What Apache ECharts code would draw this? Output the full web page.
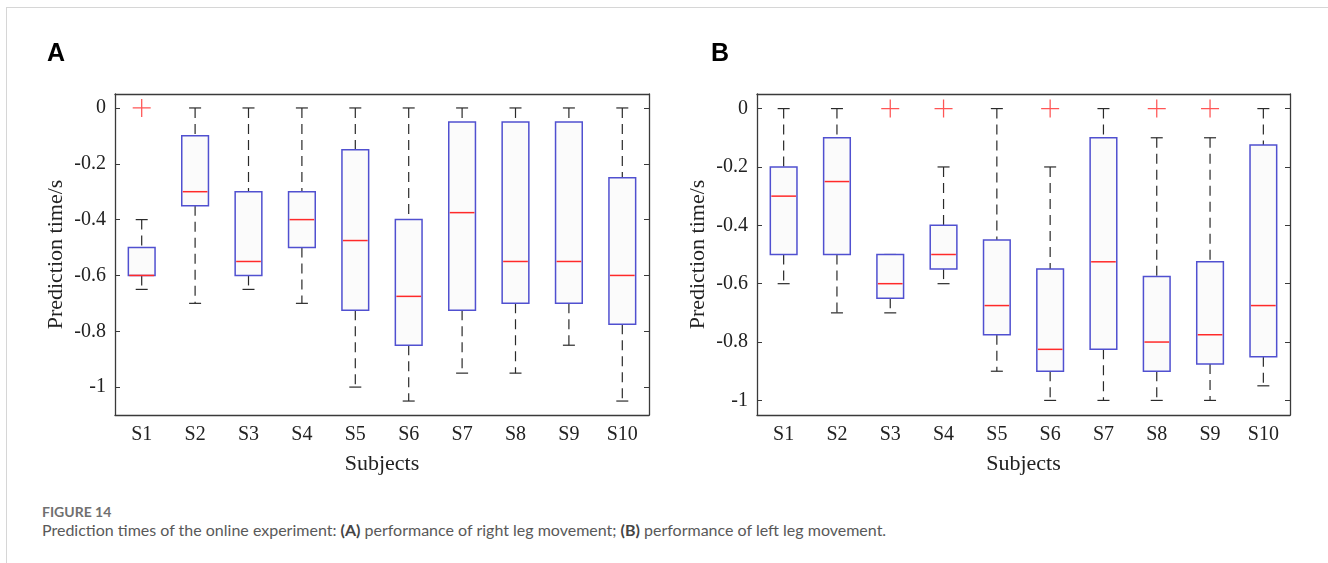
<!DOCTYPE html>
<html>
<head>
<meta charset="utf-8">
<script src="https://cdn.jsdelivr.net/npm/echarts@6/dist/echarts.min.js"></script>
<style>
  html, body { margin: 0; padding: 0; background: #fff; }
  body { width: 1328px; height: 563px; position: relative; overflow: hidden; }
  .frame { position: absolute; left: 6px; top: 7px; right: 0; bottom: 0;
           border-left: 1px solid #d6d6d6; border-top: 1px solid #d6d6d6; }
  #main { position: absolute; left: 0; top: 0; width: 1328px; height: 490px; }
  .fig { position: absolute; left: 42px; top: 503px; font-family: Lato, sans-serif;
         font-weight: bold; font-size: 14px; color: #707070; }
  .cap { position: absolute; left: 42px; top: 520px; font-family: Lato, sans-serif;
         font-size: 16px; color: #595959; white-space: nowrap; }
  .cap b { color: #444; }
</style>
</head>
<body>
<div class="frame"></div>
<div id="main"></div>
<div class="fig">FIGURE 14</div>
<div class="cap">Prediction times of the online experiment: <b>(A)</b> performance of right leg movement; <b>(B)</b> performance of left leg movement.</div>
<script>
  const subjects = ['S1', 'S2', 'S3', 'S4', 'S5', 'S6', 'S7', 'S8', 'S9', 'S10'];
  const yTicks = [0, -0.2, -0.4, -0.6, -0.8, -1];

  // panel A: right leg
  const lowerA  = [-0.65, -0.7, -0.65, -0.7, -1.0, -1.05, -0.95, -0.95, -0.85, -1.05];
  const q1A     = [-0.6, -0.35, -0.6, -0.5, -0.725, -0.85, -0.725, -0.7, -0.7, -0.775];
  const medianA = [-0.6, -0.3, -0.55, -0.4, -0.475, -0.675, -0.375, -0.55, -0.55, -0.6];
  const q3A     = [-0.5, -0.1, -0.3, -0.3, -0.15, -0.4, -0.05, -0.05, -0.05, -0.25];
  const upperA  = [-0.4, 0, 0, 0, 0, 0, 0, 0, 0, 0];
  const outlierA = [[0, 0]];

  // panel B: left leg
  const lowerB  = [-0.6, -0.7, -0.7, -0.6, -0.9, -1, -1, -1, -1, -0.95];
  const q1B     = [-0.5, -0.5, -0.65, -0.55, -0.775, -0.9, -0.825, -0.9, -0.875, -0.85];
  const medianB = [-0.3, -0.25, -0.6, -0.5, -0.675, -0.825, -0.525, -0.8, -0.775, -0.675];
  const q3B     = [-0.2, -0.1, -0.5, -0.4, -0.45, -0.55, -0.1, -0.575, -0.525, -0.125];
  const upperB  = [0, 0, -0.5, -0.2, 0, -0.2, 0, -0.1, -0.1, 0];
  const outlierB = [[2, 0], [3, 0], [5, 0], [7, 0], [8, 0]];

  const serif = 'Liberation Serif';
  const axisColor = '#3a3a3a';

  function boxRows(lo, q1, med, q3, up) {
    return subjects.map((s, i) => [i, lo[i], q1[i], med[i], q3[i], up[i]]);
  }

  // matlab style box: dashed whiskers, blue box, red median
  function renderBox(params, api) {
    const x = api.value(0);
    const pLo = api.coord([x, api.value(1)]);
    const pQ1 = api.coord([x, api.value(2)]);
    const pMed = api.coord([x, api.value(3)]);
    const pQ3 = api.coord([x, api.value(4)]);
    const pUp = api.coord([x, api.value(5)]);
    const cx = pLo[0];
    const w = api.size([1, 0])[0] * 0.5;
    const cap = 12;
    const dash = { stroke: '#2a2a2a', lineWidth: 1.2, lineDash: [10, 6] };
    const solid = { stroke: '#2a2a2a', lineWidth: 1.2 };
    return {
      type: 'group',
      children: [
        { type: 'line', shape: { x1: cx, y1: pUp[1], x2: cx, y2: pQ3[1] }, style: dash },
        { type: 'line', shape: { x1: cx, y1: pQ1[1], x2: cx, y2: pLo[1] }, style: dash },
        { type: 'line', shape: { x1: cx - cap / 2, y1: pUp[1], x2: cx + cap / 2, y2: pUp[1] }, style: solid },
        { type: 'line', shape: { x1: cx - cap / 2, y1: pLo[1], x2: cx + cap / 2, y2: pLo[1] }, style: solid },
        { type: 'rect', shape: { x: cx - w / 2, y: pQ3[1], width: w, height: pQ1[1] - pQ3[1] },
          style: { fill: '#fbfbfb', stroke: '#5050d0', lineWidth: 1.5 } },
        { type: 'line', shape: { x1: cx - w / 2 + 1, y1: pMed[1], x2: cx + w / 2 - 1, y2: pMed[1] },
          style: { stroke: '#ff2a2a', lineWidth: 1.5 } }
      ]
    };
  }

  const plus = 'path://M9.3,0H10.7V20H9.3Z M0,9.3H20V10.7H0Z';

  function xAxes(grid) {
    return [
      { type: 'category', gridIndex: grid, data: subjects, position: 'bottom',
        name: 'Subjects', nameLocation: 'middle', nameGap: 38,
        nameTextStyle: { fontFamily: serif, fontSize: 22, color: '#222' },
        axisLine: { onZero: false, lineStyle: { color: axisColor, width: 1.3 } },
        axisTick: { inside: true, alignWithLabel: true, length: 5, lineStyle: { color: axisColor } },
        axisLabel: { fontFamily: serif, fontSize: 20, color: '#222', margin: 10 } },
      { type: 'category', gridIndex: grid, data: subjects, position: 'top',
        axisLine: { onZero: false, lineStyle: { color: axisColor, width: 1.3 } },
        axisTick: { inside: true, alignWithLabel: true, length: 5, lineStyle: { color: axisColor } },
        axisLabel: { show: false } }
    ];
  }

  function yAxes(grid, min, max) {
    return [
      { type: 'value', gridIndex: grid, min: min, max: max, position: 'left',
        name: 'Prediction time/s', nameLocation: 'middle', nameGap: 48,
        nameTextStyle: { fontFamily: serif, fontSize: 22, color: '#222' },
        splitLine: { show: false },
        axisLine: { show: true, onZero: false, lineStyle: { color: axisColor, width: 1.3 } },
        axisTick: { show: true, inside: true, length: 5, customValues: yTicks, lineStyle: { color: axisColor } },
        axisLabel: { fontFamily: serif, fontSize: 20, color: '#222', margin: 9, customValues: yTicks } },
      { type: 'value', gridIndex: grid, min: min, max: max, position: 'right',
        splitLine: { show: false },
        axisLine: { show: true, onZero: false, lineStyle: { color: axisColor, width: 1.3 } },
        axisTick: { show: true, inside: true, length: 5, customValues: yTicks, lineStyle: { color: axisColor } },
        axisLabel: { show: false } }
    ];
  }

  const chart = echarts.init(document.getElementById('main'));
  chart.setOption({
    animation: false,
    title: [
      { text: 'A', left: 42, top: 37, textStyle: { fontFamily: 'Liberation Sans', fontSize: 25, fontWeight: 'bold', color: '#000' } },
      { text: 'B', left: 706, top: 37, textStyle: { fontFamily: 'Liberation Sans', fontSize: 25, fontWeight: 'bold', color: '#000' } }
    ],
    grid: [
      { left: 115, top: 94, width: 534, height: 321 },
      { left: 757, top: 94, width: 533, height: 321 }
    ],
    xAxis: [...xAxes(0), ...xAxes(1)],
    yAxis: [...yAxes(0, -1.1, 0.05), ...yAxes(1, -1.05, 0.05)],
    series: [
      { type: 'custom', xAxisIndex: 0, yAxisIndex: 0, renderItem: renderBox,
        encode: { x: 0, y: [1, 2, 3, 4, 5] }, data: boxRows(lowerA, q1A, medianA, q3A, upperA) },
      { type: 'scatter', xAxisIndex: 0, yAxisIndex: 0, symbol: plus, symbolSize: 18,
        itemStyle: { color: '#ff2a2a' }, data: outlierA },
      { type: 'custom', xAxisIndex: 2, yAxisIndex: 2, renderItem: renderBox,
        encode: { x: 0, y: [1, 2, 3, 4, 5] }, data: boxRows(lowerB, q1B, medianB, q3B, upperB) },
      { type: 'scatter', xAxisIndex: 2, yAxisIndex: 2, symbol: plus, symbolSize: 18,
        itemStyle: { color: '#ff2a2a' }, data: outlierB }
    ]
  });
</script>
</body>
</html>
